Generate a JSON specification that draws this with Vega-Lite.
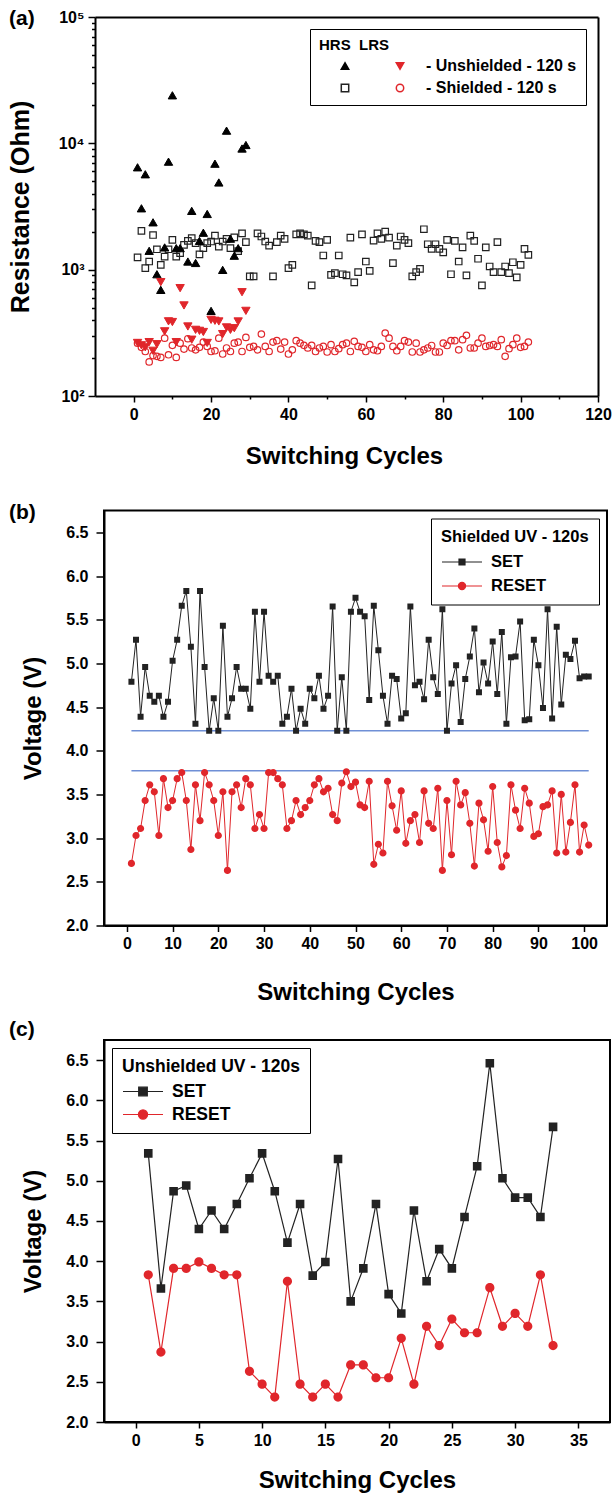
{
  "$schema": "https://vega.github.io/schema/vega-lite/v6.json",
  "background": "white",
  "padding": {"left": 8, "top": 8, "right": 0, "bottom": 0},
  "bounds": "flush",
  "spacing": 114.5,
  "config": {
    "font": "Liberation Sans",
    "view": {"stroke": "#000", "strokeWidth": 2},
    "axis": {
      "labelFont": "Liberation Sans", "labelFontWeight": "bold", "labelFontSize": 16, "labelColor": "#000", "labelPadding": 4,
      "titleFont": "Liberation Sans", "titleFontWeight": "bold", "titleFontSize": 24, "titleColor": "#000",
      "grid": false, "domainColor": "#000", "domainWidth": 2, "tickColor": "#000", "tickWidth": 1.5,
      "labelOverlap": false, "labelFlush": false
    },
    "legend": {
      "titleFont": "Liberation Sans", "labelFont": "Liberation Sans", "titleFontWeight": "bold", "labelFontWeight": "bold",
      "titleColor": "#000", "labelColor": "#000", "titleFontSize": 15, "labelFontSize": 15,
      "strokeColor": "#000", "fillColor": "white", "padding": 10, "titleLimit": 400, "labelLimit": 400
    },
    "title": {"font": "Liberation Sans", "fontWeight": "bold", "fontSize": 21, "color": "#000"}
  },
  "resolve": {
    "scale": {"color": "independent", "shape": "independent", "fill": "independent", "stroke": "independent"},
    "legend": {"color": "independent", "shape": "independent", "fill": "independent", "stroke": "independent"}
  },
  "datasets": {
    "a": [
      {"c":1,"uH":6460,"uL":263,"sH":1250,"sL":262},
      {"c":2,"uH":3060,"uL":252,"sH":2030,"sL":243},
      {"c":3,"uH":5690,"uL":243,"sH":1030,"sL":225},
      {"c":4,"uH":1410,"uL":267,"sH":1160,"sL":186},
      {"c":5,"uH":2370,"uL":228,"sH":1880,"sL":209},
      {"c":6,"uH":920,"uL":257,"sH":1450,"sL":206},
      {"c":7,"uH":692,"uL":797,"sH":1090,"sL":202},
      {"c":8,"uH":1500,"uL":325,"sH":1270,"sL":287},
      {"c":9,"uH":7160,"uL":390,"sH":1450,"sL":212},
      {"c":10,"uH":24000,"uL":385,"sH":1720,"sL":252},
      {"c":11,"uH":1480,"uL":267,"sH":1270,"sL":202},
      {"c":12,"uH":1480,"uL":714,"sH":1350,"sL":262},
      {"c":13,"uL":521,"sH":1570,"sL":235},
      {"c":14,"uH":1160,"uL":355,"sH":1690,"sL":284},
      {"c":15,"uH":2920,"uL":279,"sH":1775,"sL":240},
      {"c":16,"uH":1130,"uL":334,"sH":1620,"sL":232},
      {"c":17,"uH":1690,"uL":328,"sH":1320,"sL":243},
      {"c":18,"uH":1960,"uL":321,"sH":1480,"sL":267},
      {"c":19,"uH":2760,"uL":263,"sH":1620,"sL":247},
      {"c":20,"uH":472,"uL":401,"sH":1670,"sL":225},
      {"c":21,"uH":6900,"uL":394,"sH":1860,"sL":228},
      {"c":22,"uH":4900,"uL":389,"sH":1520,"sL":287},
      {"c":23,"uH":996,"uL":309,"sH":1670,"sL":215},
      {"c":24,"uH":12600,"uL":349,"sH":1750,"sL":240},
      {"c":25,"uH":1760,"uL":334,"sH":1480,"sL":225},
      {"c":26,"uH":1290,"uL":344,"sH":1800,"sL":262},
      {"c":27,"uH":1480,"uL":389,"sH":1400,"sL":267},
      {"c":28,"uH":9100,"uL":663,"sH":1940,"sL":225},
      {"c":29,"uH":9700,"uL":472,"sH":1650,"sL":291},
      {"c":30,"sH":884,"sL":243},
      {"c":31,"sH":884,"sL":247},
      {"c":32,"sH":1940,"sL":232},
      {"c":33,"sH":1830,"sL":309},
      {"c":34,"sH":1670,"sL":247},
      {"c":35,"sH":1550,"sL":225},
      {"c":36,"sH":884,"sL":267},
      {"c":37,"sH":1650,"sL":274},
      {"c":38,"sH":1860,"sL":235},
      {"c":39,"sH":1755,"sL":267},
      {"c":40,"sH":1030,"sL":215},
      {"c":41,"sH":1090,"sL":232},
      {"c":42,"sH":1900,"sL":274},
      {"c":43,"sH":1940,"sL":262},
      {"c":44,"sH":1900,"sL":252},
      {"c":45,"sH":1860,"sL":240},
      {"c":46,"sH":750,"sL":252},
      {"c":47,"sH":1690,"sL":225},
      {"c":48,"sH":1650,"sL":240},
      {"c":49,"sH":1295,"sL":247},
      {"c":50,"sH":1720,"sL":223},
      {"c":51,"sH":910,"sL":255},
      {"c":52,"sH":938,"sL":225},
      {"c":53,"sH":1295,"sL":237},
      {"c":54,"sH":920,"sL":255},
      {"c":55,"sH":900,"sL":262},
      {"c":56,"sH":1795,"sL":225},
      {"c":57,"sH":793,"sL":271},
      {"c":58,"sH":955,"sL":247},
      {"c":59,"sH":1900,"sL":243},
      {"c":60,"sH":1160,"sL":225},
      {"c":61,"sH":977,"sL":255},
      {"c":62,"sH":1700,"sL":232},
      {"c":63,"sH":1940,"sL":228},
      {"c":64,"sH":1755,"sL":247},
      {"c":65,"sH":2000,"sL":315},
      {"c":66,"sH":1795,"sL":287},
      {"c":67,"sH":1125,"sL":247},
      {"c":68,"sH":1550,"sL":228},
      {"c":69,"sH":1830,"sL":247},
      {"c":70,"sH":1720,"sL":274},
      {"c":71,"sH":1620,"sL":267},
      {"c":72,"sH":884,"sL":223},
      {"c":73,"sH":955,"sL":262},
      {"c":74,"sH":1015,"sL":223},
      {"c":75,"sH":2090,"sL":232},
      {"c":76,"sH":1590,"sL":240},
      {"c":77,"sH":1460,"sL":251},
      {"c":78,"sH":1590,"sL":223},
      {"c":79,"sH":1460,"sL":223},
      {"c":80,"sH":1370,"sL":262},
      {"c":81,"sH":1720,"sL":251},
      {"c":82,"sH":920,"sL":274},
      {"c":83,"sH":1690,"sL":274},
      {"c":84,"sH":1160,"sL":232},
      {"c":85,"sH":1500,"sL":279},
      {"c":86,"sH":900,"sL":302},
      {"c":87,"sH":1860,"sL":240},
      {"c":88,"sH":1690,"sL":240},
      {"c":89,"sH":1220,"sL":262},
      {"c":90,"sH":750,"sL":287},
      {"c":91,"sH":1500,"sL":247},
      {"c":92,"sH":1060,"sL":251},
      {"c":93,"sH":955,"sL":255},
      {"c":94,"sH":1650,"sL":247},
      {"c":95,"sH":955,"sL":279},
      {"c":96,"sH":1060,"sL":206},
      {"c":97,"sH":938,"sL":237},
      {"c":98,"sH":1145,"sL":255},
      {"c":99,"sH":870,"sL":287},
      {"c":100,"sH":1090,"sL":243},
      {"c":101,"sH":1460,"sL":247},
      {"c":102,"sH":1310,"sL":267}
    ],
    "b": [
      {"c":1,"SET":4.79,"RESET":2.71},{"c":2,"SET":5.27,"RESET":3.03},{"c":3,"SET":4.39,"RESET":3.11},{"c":4,"SET":4.96,"RESET":3.43},{"c":5,"SET":4.63,"RESET":3.61},
      {"c":6,"SET":4.56,"RESET":3.53},{"c":7,"SET":4.63,"RESET":3.03},{"c":8,"SET":4.39,"RESET":3.68},{"c":9,"SET":4.56,"RESET":3.35},{"c":10,"SET":5.03,"RESET":3.43},
      {"c":11,"SET":5.27,"RESET":3.68},{"c":12,"SET":5.66,"RESET":3.75},{"c":13,"SET":5.83,"RESET":3.43},{"c":14,"SET":5.19,"RESET":2.87},{"c":15,"SET":4.31,"RESET":3.61},
      {"c":16,"SET":5.83,"RESET":3.20},{"c":17,"SET":4.96,"RESET":3.75},{"c":18,"SET":4.23,"RESET":3.61},{"c":19,"SET":4.60,"RESET":3.43},{"c":20,"SET":4.23,"RESET":3.03},
      {"c":21,"SET":5.43,"RESET":3.53},{"c":22,"SET":4.39,"RESET":2.63},{"c":23,"SET":4.60,"RESET":3.53},{"c":24,"SET":4.96,"RESET":3.61},{"c":25,"SET":4.71,"RESET":3.35},
      {"c":26,"SET":4.71,"RESET":3.68},{"c":27,"SET":4.48,"RESET":3.61},{"c":28,"SET":5.59,"RESET":3.11},{"c":29,"SET":4.79,"RESET":3.27},{"c":30,"SET":5.59,"RESET":3.11},
      {"c":31,"SET":4.86,"RESET":3.75},{"c":32,"SET":4.79,"RESET":3.75},{"c":33,"SET":4.86,"RESET":3.68},{"c":34,"SET":4.31,"RESET":3.61},{"c":35,"SET":4.39,"RESET":3.11},
      {"c":36,"SET":4.71,"RESET":3.20},{"c":37,"SET":4.23,"RESET":3.43},{"c":38,"SET":4.48,"RESET":3.27},{"c":39,"SET":4.31,"RESET":3.35},{"c":40,"SET":4.71,"RESET":3.43},
      {"c":41,"SET":4.60,"RESET":3.61},{"c":42,"SET":4.86,"RESET":3.68},{"c":43,"SET":4.48,"RESET":3.53},{"c":44,"SET":4.63,"RESET":3.57},{"c":45,"SET":5.65,"RESET":3.27},
      {"c":46,"SET":4.23,"RESET":3.20},{"c":47,"SET":4.84,"RESET":3.63},{"c":48,"SET":4.23,"RESET":3.76},{"c":49,"SET":5.59,"RESET":3.59},{"c":50,"SET":5.75,"RESET":3.64},
      {"c":51,"SET":5.59,"RESET":3.38},{"c":52,"SET":5.54,"RESET":3.35},{"c":53,"SET":4.58,"RESET":3.65},{"c":54,"SET":5.66,"RESET":2.70},{"c":55,"SET":5.15,"RESET":2.93},
      {"c":56,"SET":4.63,"RESET":2.83},{"c":57,"SET":4.31,"RESET":3.65},{"c":58,"SET":4.86,"RESET":3.37},{"c":59,"SET":4.82,"RESET":3.09},{"c":60,"SET":4.37,"RESET":3.54},
      {"c":61,"SET":4.43,"RESET":2.94},{"c":62,"SET":5.65,"RESET":3.20},{"c":63,"SET":4.75,"RESET":3.27},{"c":64,"SET":4.79,"RESET":2.95},{"c":65,"SET":4.59,"RESET":3.54},
      {"c":66,"SET":5.27,"RESET":3.17},{"c":67,"SET":4.84,"RESET":3.11},{"c":68,"SET":4.65,"RESET":3.57},{"c":69,"SET":5.62,"RESET":2.63},{"c":70,"SET":4.23,"RESET":3.43},
      {"c":71,"SET":4.77,"RESET":2.81},{"c":72,"SET":4.98,"RESET":3.65},{"c":73,"SET":4.33,"RESET":3.38},{"c":74,"SET":4.82,"RESET":3.52},{"c":75,"SET":5.08,"RESET":3.17},
      {"c":76,"SET":5.40,"RESET":2.68},{"c":77,"SET":4.67,"RESET":3.40},{"c":78,"SET":5.01,"RESET":3.21},{"c":79,"SET":4.77,"RESET":2.85},{"c":80,"SET":5.25,"RESET":3.59},
      {"c":81,"SET":4.65,"RESET":2.95},{"c":82,"SET":5.36,"RESET":2.67},{"c":83,"SET":4.31,"RESET":2.80},{"c":84,"SET":5.07,"RESET":3.61},{"c":85,"SET":5.08,"RESET":3.32},
      {"c":86,"SET":5.48,"RESET":3.11},{"c":87,"SET":4.35,"RESET":3.57},{"c":88,"SET":4.36,"RESET":3.40},{"c":89,"SET":5.27,"RESET":3.02},{"c":90,"SET":4.98,"RESET":3.05},
      {"c":91,"SET":4.49,"RESET":3.36},{"c":92,"SET":5.62,"RESET":3.38},{"c":93,"SET":4.37,"RESET":3.54},{"c":94,"SET":5.42,"RESET":2.83},{"c":95,"SET":4.53,"RESET":3.50},
      {"c":96,"SET":5.10,"RESET":2.84},{"c":97,"SET":5.05,"RESET":3.18},{"c":98,"SET":5.26,"RESET":3.61},{"c":99,"SET":4.83,"RESET":2.84},{"c":100,"SET":4.85,"RESET":3.15},
      {"c":101,"SET":4.85,"RESET":2.92}
    ],
    "bref": [
      {"c":1,"c2":101,"V":4.23},
      {"c":1,"c2":101,"V":3.77}
    ],
    "c": [
      {"c":1,"SET":5.34,"RESET":3.83},{"c":2,"SET":3.66,"RESET":2.87},{"c":3,"SET":4.87,"RESET":3.91},{"c":4,"SET":4.94,"RESET":3.91},
      {"c":5,"SET":4.40,"RESET":3.99},{"c":6,"SET":4.63,"RESET":3.91},{"c":7,"SET":4.40,"RESET":3.83},{"c":8,"SET":4.71,"RESET":3.83},
      {"c":9,"SET":5.03,"RESET":2.63},{"c":10,"SET":5.34,"RESET":2.47},{"c":11,"SET":4.87,"RESET":2.31},{"c":12,"SET":4.23,"RESET":3.75},
      {"c":13,"SET":4.71,"RESET":2.47},{"c":14,"SET":3.82,"RESET":2.31},{"c":15,"SET":3.99,"RESET":2.47},{"c":16,"SET":5.27,"RESET":2.31},
      {"c":17,"SET":3.50,"RESET":2.71},{"c":18,"SET":3.91,"RESET":2.71},{"c":19,"SET":4.71,"RESET":2.55},{"c":20,"SET":3.59,"RESET":2.55},
      {"c":21,"SET":3.35,"RESET":3.04},{"c":22,"SET":4.63,"RESET":2.47},{"c":23,"SET":3.75,"RESET":3.19},{"c":24,"SET":4.15,"RESET":2.95},
      {"c":25,"SET":3.91,"RESET":3.28},{"c":26,"SET":4.55,"RESET":3.11},{"c":27,"SET":5.18,"RESET":3.11},{"c":28,"SET":6.46,"RESET":3.67},
      {"c":29,"SET":5.03,"RESET":3.19},{"c":30,"SET":4.79,"RESET":3.35},{"c":31,"SET":4.79,"RESET":3.19},{"c":32,"SET":4.55,"RESET":3.83},
      {"c":33,"SET":5.67,"RESET":2.95}
    ]
  },
  "vconcat": [
    {
      "width": 494, "height": 379,
      "view": {"stroke": null},
      "title": {"text": "(a)", "anchor": "start", "frame": "group", "dx": -95, "dy": 21, "offset": -10, "baseline": "middle"},
      "data": {"name": "a"},
      "transform": [{"fold": ["uH", "uL", "sH", "sL"], "as": ["series", "R"]}, {"filter": "isValid(datum.R)"}],
      "encoding": {
        "shape": {"field": "series", "type": "nominal",
          "scale": {"domain": ["uH", "sH", "uL", "sL"], "range": ["triangle-up", "square", "triangle-down", "circle"]},
          "legend": {"title": "HRS\u00a0\u00a0LRS", "orient": "top-right", "offset": 12, "columns": 2, "columnPadding": 3, "rowPadding": 6, "symbolSize": 55, "symbolOffset": 18, "labelOffset": 18, "padding": 9, "labelFontSize": 16, "titleFontSize": 15,
            "labelExpr": "datum.value == 'uL' ? '- Unshielded - 120 s' : datum.value == 'sL' ? '- Shielded - 120 s' : ''"}},
        "stroke": {"field": "series", "type": "nominal",
          "scale": {"domain": ["uH", "sH", "uL", "sL"], "range": ["#000", "#222", "#e0262b", "#e0262b"]},
          "legend": {"title": "HRS\u00a0\u00a0LRS", "orient": "top-right", "offset": 12, "columns": 2, "columnPadding": 3, "rowPadding": 6, "symbolSize": 55, "symbolOffset": 18, "labelOffset": 18, "padding": 9, "labelFontSize": 16, "titleFontSize": 15,
            "labelExpr": "datum.value == 'uL' ? '- Unshielded - 120 s' : datum.value == 'sL' ? '- Shielded - 120 s' : ''"}},
        "fill": {"field": "series", "type": "nominal",
          "scale": {"domain": ["uH", "sH", "uL", "sL"], "range": ["#000", "transparent", "#e0262b", "transparent"]},
          "legend": {"title": "HRS\u00a0\u00a0LRS", "orient": "top-right", "offset": 12, "columns": 2, "columnPadding": 3, "rowPadding": 6, "symbolSize": 55, "symbolOffset": 18, "labelOffset": 18, "padding": 9, "labelFontSize": 16, "titleFontSize": 15,
            "labelExpr": "datum.value == 'uL' ? '- Unshielded - 120 s' : datum.value == 'sL' ? '- Shielded - 120 s' : ''"}}
      },
      "layer": [
        {"transform": [{"filter": "datum.series == 'sH' || datum.series == 'sL'"}],
          "mark": {"type": "point", "size": 42, "opacity": 1, "strokeWidth": 1.2},
          "encoding": {
            "x": {"field": "c", "type": "quantitative", "scale": {"domain": [-10, 120], "range": [-9, 494], "nice": false, "zero": false},
              "axis": {"title": "Switching Cycles", "values": [0,10,20,30,40,50,60,70,80,90,100,110,120],
                "labelExpr": "datum.value % 20 == 0 ? datum.label : ''",
                "tickSize": {"condition": {"test": "datum.value % 20 == 0", "value": 6}, "value": 3},
                "titleX": 240, "titleY": 60, "titleBaseline": "middle"}},
            "y": {"field": "R", "type": "quantitative", "scale": {"type": "log", "domain": [100, 100000], "nice": false},
              "axis": {"title": "Resistance (Ohm)", "offset": 9, "titleFontSize": 25,
                "values": [100,200,300,400,500,600,700,800,900,1000,2000,3000,4000,5000,6000,7000,8000,9000,10000,20000,30000,40000,50000,60000,70000,80000,90000,100000],
                "labelExpr": "datum.value == 100 ? '10²' : datum.value == 1000 ? '10³' : datum.value == 10000 ? '10⁴' : datum.value == 100000 ? '10⁵' : ''",
                "tickSize": {"condition": {"test": "indexof([100,1000,10000,100000], datum.value) >= 0", "value": 7}, "value": 3.5},
                "titleX": -75, "titleY": 189.5, "titleBaseline": "middle"}}
          }},
        {"transform": [{"filter": "datum.series == 'uH' || datum.series == 'uL'"}],
          "mark": {"type": "point", "size": 70, "opacity": 1, "strokeWidth": 1},
          "encoding": {
            "x": {"field": "c", "type": "quantitative", "axis": {"orient": "top", "ticks": false, "labels": false, "title": null}},
            "y": {"field": "R", "type": "quantitative", "axis": {"orient": "right", "ticks": false, "labels": false, "title": null}}
          }}
      ],
      "resolve": {"axis": {"x": "independent", "y": "independent"}}
    },
    {
      "width": 503, "height": 415,
      "title": {"text": "(b)", "anchor": "start", "frame": "group", "dx": -95, "dy": 19, "offset": -4, "baseline": "middle"},
      "layer": [
        {
          "data": {"name": "bref"},
          "mark": {"type": "rule", "color": "#6f8fd6", "strokeWidth": 1.5},
          "encoding": {
            "x": {"field": "c", "type": "quantitative", "scale": {"domain": [-5, 105], "nice": false, "zero": false}, "title": "Switching Cycles"},
            "x2": {"field": "c2"},
            "y": {"field": "V", "type": "quantitative", "scale": {"domain": [2, 6.75], "nice": false, "zero": false}, "title": "Voltage (V)"}
          }
        },
        {
          "data": {"name": "b"},
          "transform": [{"fold": ["SET", "RESET"], "as": ["series", "V"]}],
          "mark": {"type": "line", "strokeWidth": 1},
          "encoding": {
            "x": {"field": "c", "type": "quantitative",
              "axis": {"title": "Switching Cycles", "values": [0,5,10,15,20,25,30,35,40,45,50,55,60,65,70,75,80,85,90,95,100],
                "labelExpr": "datum.value % 10 == 0 ? datum.label : ''",
                "tickSize": {"condition": {"test": "datum.value % 10 == 0", "value": 6}, "value": 3},
                "titleX": 251.5, "titleY": 66.5, "titleBaseline": "middle"}},
            "y": {"field": "V", "type": "quantitative",
              "axis": {"title": "Voltage (V)", "values": [2,2.25,2.5,2.75,3,3.25,3.5,3.75,4,4.25,4.5,4.75,5,5.25,5.5,5.75,6,6.25,6.5],
                "format": ".1f", "labelPadding": 8,
                "labelExpr": "(datum.value * 2) % 1 == 0 ? datum.label : ''",
                "tickSize": {"condition": {"test": "(datum.value * 2) % 1 == 0", "value": 8}, "value": 4},
                "titleX": -71, "titleY": 207.5, "titleBaseline": "middle"}},
            "color": {"field": "series", "type": "nominal", "scale": {"domain": ["SET", "RESET"], "range": ["#222", "#e0262b"]},
              "legend": {"title": "Shielded UV - 120s", "orient": "top-right", "offset": 8, "symbolSize": 400, "symbolOffset": 10, "labelOffset": 18, "rowPadding": 4, "titlePadding": 6,
                "titleFontSize": 16.5, "labelFontSize": 16.5, "symbolStrokeWidth": 1.2}}
          }
        },
        {
          "data": {"name": "b"},
          "transform": [{"fold": ["SET", "RESET"], "as": ["series", "V"]}],
          "mark": {"type": "point", "filled": true, "opacity": 1, "size": 400},
          "encoding": {
            "x": {"field": "c", "type": "quantitative"},
            "y": {"field": "V", "type": "quantitative"},
            "color": {"field": "series", "type": "nominal",
              "legend": {"title": "Shielded UV - 120s", "orient": "top-right", "offset": 8, "symbolSize": 400, "symbolOffset": 10, "labelOffset": 18, "rowPadding": 4, "titlePadding": 6,
                "titleFontSize": 16.5, "labelFontSize": 16.5, "symbolStrokeWidth": 1.2}},
            "shape": {"field": "series", "type": "nominal",
              "scale": {"domain": ["SET", "RESET"], "range": ["M-2,0H2M-0.3,-0.3H0.3V0.3H-0.3Z", "M-2,0H2M0.36,0A0.36,0.36 0 1 1 -0.36,0A0.36,0.36 0 1 1 0.36,0Z"]},
              "legend": {"title": "Shielded UV - 120s", "orient": "top-right", "offset": 8, "symbolSize": 400, "symbolOffset": 10, "labelOffset": 18, "rowPadding": 4, "titlePadding": 6,
                "titleFontSize": 16.5, "labelFontSize": 16.5, "symbolStrokeWidth": 1.2}}
          }
        }
      ]
    },
    {
      "width": 506, "height": 382,
      "title": {"text": "(c)", "anchor": "start", "frame": "group", "dx": -95, "dy": 17, "offset": 6, "baseline": "middle"},
      "data": {"name": "c"},
      "transform": [{"fold": ["SET", "RESET"], "as": ["series", "V"]}],
      "layer": [
        {
          "mark": {"type": "line", "strokeWidth": 1.2},
          "encoding": {
            "x": {"field": "c", "type": "quantitative", "scale": {"domain": [-2.5, 37.5], "nice": false, "zero": false},
              "axis": {"title": "Switching Cycles", "values": [0,2.5,5,7.5,10,12.5,15,17.5,20,22.5,25,27.5,30,32.5,35],
                "labelExpr": "datum.value % 5 == 0 ? datum.label : ''",
                "tickSize": {"condition": {"test": "datum.value % 5 == 0", "value": 6}, "value": 3},
                "titleX": 253, "titleY": 58, "titleBaseline": "middle"}},
            "y": {"field": "V", "type": "quantitative", "scale": {"domain": [2, 6.75], "nice": false, "zero": false},
              "axis": {"title": "Voltage (V)", "values": [2,2.25,2.5,2.75,3,3.25,3.5,3.75,4,4.25,4.5,4.75,5,5.25,5.5,5.75,6,6.25,6.5],
                "format": ".1f", "labelPadding": 8,
                "labelExpr": "(datum.value * 2) % 1 == 0 ? datum.label : ''",
                "tickSize": {"condition": {"test": "(datum.value * 2) % 1 == 0", "value": 8}, "value": 4},
                "titleX": -71, "titleY": 191, "titleBaseline": "middle"}},
            "color": {"field": "series", "type": "nominal", "scale": {"domain": ["SET", "RESET"], "range": ["#222", "#e0262b"]},
              "legend": {"title": "Unshielded UV - 120s", "orient": "top-left", "offset": 8, "symbolSize": 400, "symbolOffset": 10, "labelOffset": 18, "rowPadding": 3, "titlePadding": 5,
                "titleFontSize": 17.5, "labelFontSize": 17.5, "symbolStrokeWidth": 1.2}}
          }
        },
        {
          "mark": {"type": "point", "filled": true, "opacity": 1, "size": 400},
          "encoding": {
            "x": {"field": "c", "type": "quantitative"},
            "y": {"field": "V", "type": "quantitative"},
            "color": {"field": "series", "type": "nominal",
              "legend": {"title": "Unshielded UV - 120s", "orient": "top-left", "offset": 8, "symbolSize": 400, "symbolOffset": 10, "labelOffset": 18, "rowPadding": 3, "titlePadding": 5,
                "titleFontSize": 17.5, "labelFontSize": 17.5, "symbolStrokeWidth": 1.2}},
            "shape": {"field": "series", "type": "nominal",
              "scale": {"domain": ["SET", "RESET"], "range": ["M-2,0H2M-0.43,-0.43H0.43V0.43H-0.43Z", "M-2,0H2M0.46,0A0.46,0.46 0 1 1 -0.46,0A0.46,0.46 0 1 1 0.46,0Z"]},
              "legend": {"title": "Unshielded UV - 120s", "orient": "top-left", "offset": 8, "symbolSize": 400, "symbolOffset": 10, "labelOffset": 18, "rowPadding": 3, "titlePadding": 5,
                "titleFontSize": 17.5, "labelFontSize": 17.5, "symbolStrokeWidth": 1.2}}
          }
        }
      ]
    }
  ]
}
